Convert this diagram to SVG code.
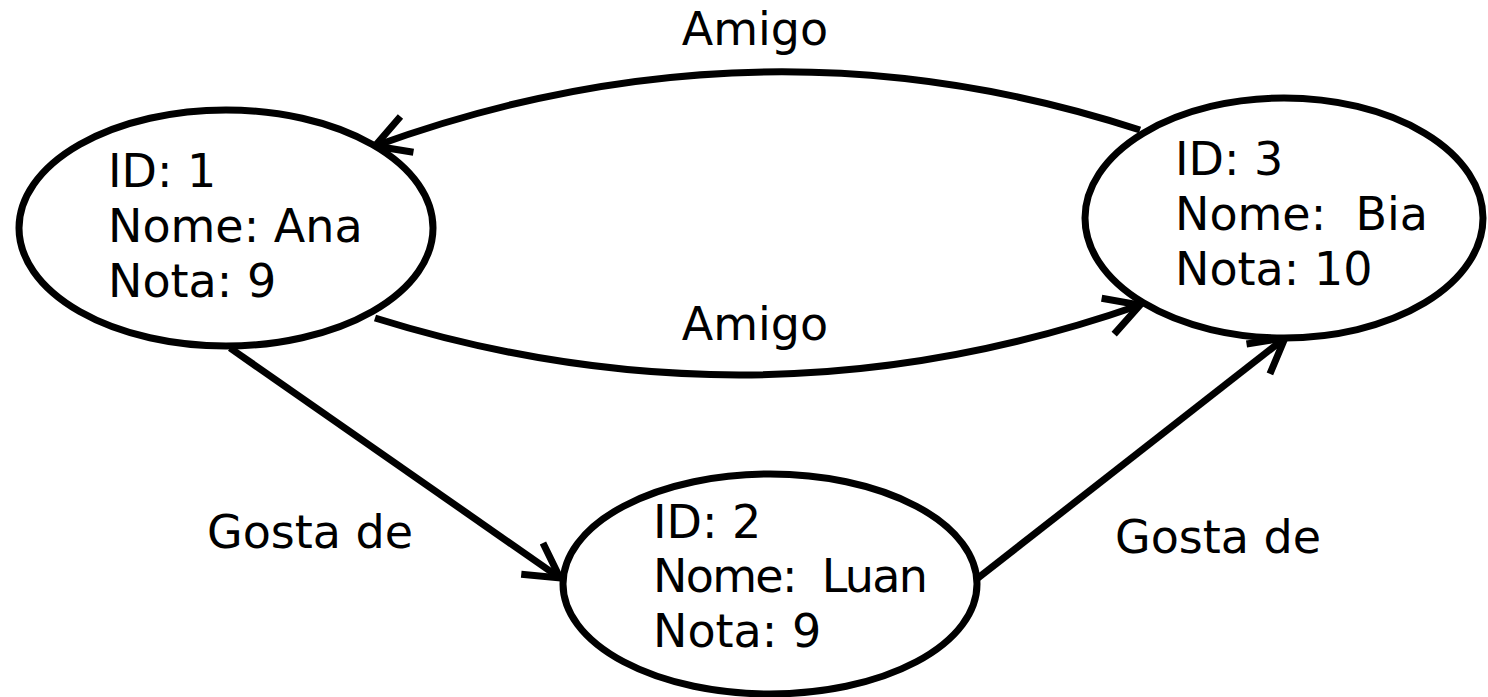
<svg xmlns="http://www.w3.org/2000/svg" width="1488" height="697" viewBox="0 0 1488 697">
<style>
.node{fill:#fff;stroke:#000;stroke-width:7}
.t{font-family:"DejaVu Sans",sans-serif;font-size:46px;fill:#000}
.edge{fill:none;stroke:#000;stroke-width:7}
</style>
<defs>
<marker id="arr" markerUnits="userSpaceOnUse" markerWidth="60" markerHeight="60" refX="0" refY="0" viewBox="-50 -30 60 60" orient="auto" overflow="visible">
<path d="M-34,-19 L0,0 L-34,19" fill="none" stroke="#000" stroke-width="7"/>
</marker>
</defs>
<rect width="1488" height="697" fill="#fff"/>
<g id="connectors">
<path class="edge" d="M1140,130 Q760,6 375,146" marker-end="url(#arr)"/>
<path class="edge" d="M375,318 Q760,438 1140,305" marker-end="url(#arr)"/>
<path class="edge" d="M230,348 L560,578" marker-end="url(#arr)"/>
<path class="edge" d="M978,578 L1285,338" marker-end="url(#arr)"/>
<text class="t" x="755" y="45" text-anchor="middle">Amigo</text>
<text class="t" x="755" y="340" text-anchor="middle">Amigo</text>
<text class="t" x="207" y="548">Gosta de</text>
<text class="t" x="1115" y="553">Gosta de</text>
</g>
<g id="node1">
<ellipse class="node" cx="226" cy="228" rx="207" ry="118"/>
<text class="t" x="108" y="187">ID: 1</text>
<text class="t" x="108" y="242">Nome: Ana</text>
<text class="t" x="108" y="297">Nota: 9</text>
</g>
<g id="node3">
<ellipse class="node" cx="1284" cy="218" rx="199" ry="120"/>
<text class="t" x="1175" y="175">ID: 3</text>
<text class="t" x="1175" y="230" xml:space="preserve">Nome:  Bia</text>
<text class="t" x="1175" y="285">Nota: 10</text>
</g>
<g id="node2">
<ellipse class="node" cx="770" cy="584" rx="207" ry="110"/>
<text class="t" x="653" y="538">ID: 2</text>
<text class="t" x="653" y="592" xml:space="preserve" textLength="275" lengthAdjust="spacing">Nome:  Luan</text>
<text class="t" x="653" y="647">Nota: 9</text>
</g>
</svg>
